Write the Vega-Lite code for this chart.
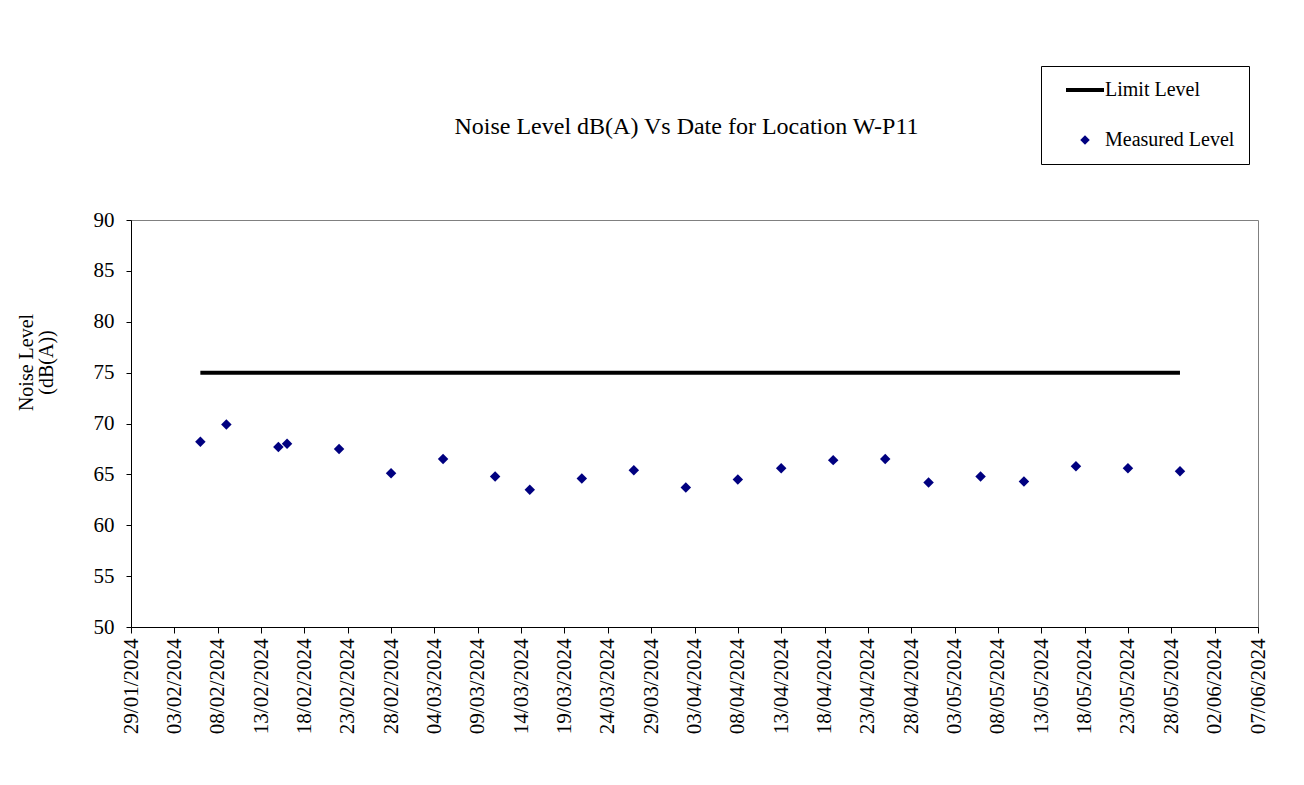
{
  "$schema": "https://vega.github.io/schema/vega-lite/v6.json",
  "width": 1127,
  "height": 407,
  "autosize": {"type": "none"},
  "padding": {"left": 131, "top": 220, "right": 46, "bottom": 158},
  "background": "white",
  "config": {
    "font": "Liberation Serif",
    "view": {"stroke": "#808080", "strokeWidth": 1},
    "axis": {"labelFont": "Liberation Serif", "titleFont": "Liberation Serif", "labelColor": "#000", "titleColor": "#000", "domainColor": "#000", "tickColor": "#000", "grid": false, "titleFontWeight": "normal"}
  },
  "title": {
    "text": "Noise Level dB(A) Vs Date for Location W-P11",
    "font": "Liberation Serif",
    "fontSize": 24,
    "fontWeight": "normal",
    "color": "#000",
    "offset": -73,
    "dx": -8
  },
  "datasets": {
    "limit": [
      {"date": "2024-02-06", "level": 75, "series": "Limit Level"},
      {"date": "2024-05-29", "level": 75, "series": "Limit Level"}
    ],
    "measured": [
      {"date": "2024-02-06", "level": 68.2, "series": "Measured Level"},
      {"date": "2024-02-09", "level": 69.9, "series": "Measured Level"},
      {"date": "2024-02-15", "level": 67.7, "series": "Measured Level"},
      {"date": "2024-02-16", "level": 68.0, "series": "Measured Level"},
      {"date": "2024-02-22", "level": 67.5, "series": "Measured Level"},
      {"date": "2024-02-28", "level": 65.1, "series": "Measured Level"},
      {"date": "2024-03-05", "level": 66.5, "series": "Measured Level"},
      {"date": "2024-03-11", "level": 64.8, "series": "Measured Level"},
      {"date": "2024-03-15", "level": 63.5, "series": "Measured Level"},
      {"date": "2024-03-21", "level": 64.6, "series": "Measured Level"},
      {"date": "2024-03-27", "level": 65.4, "series": "Measured Level"},
      {"date": "2024-04-02", "level": 63.7, "series": "Measured Level"},
      {"date": "2024-04-08", "level": 64.5, "series": "Measured Level"},
      {"date": "2024-04-13", "level": 65.6, "series": "Measured Level"},
      {"date": "2024-04-19", "level": 66.4, "series": "Measured Level"},
      {"date": "2024-04-25", "level": 66.5, "series": "Measured Level"},
      {"date": "2024-04-30", "level": 64.2, "series": "Measured Level"},
      {"date": "2024-05-06", "level": 64.8, "series": "Measured Level"},
      {"date": "2024-05-11", "level": 64.3, "series": "Measured Level"},
      {"date": "2024-05-17", "level": 65.8, "series": "Measured Level"},
      {"date": "2024-05-23", "level": 65.6, "series": "Measured Level"},
      {"date": "2024-05-29", "level": 65.3, "series": "Measured Level"}
    ]
  },
  "encoding": {
    "x": {
      "field": "date",
      "type": "temporal",
      "scale": {"type": "utc", "domain": [{"year": 2024, "month": 1, "date": 29, "utc": true}, {"year": 2024, "month": 6, "date": 7, "utc": true}]},
      "axis": {
        "title": null,
        "labelExpr": "utcFormat(datum.value, '%d/%m/%Y')",
        "labelAngle": -90,
        "labelFontSize": 21,
        "labelPadding": 5,
        "tickSize": 6,
        "labelOverlap": false,
        "labelFlush": false,
        "values": [
          {"year": 2024, "month": 1, "date": 29, "utc": true},
          {"year": 2024, "month": 2, "date": 3, "utc": true},
          {"year": 2024, "month": 2, "date": 8, "utc": true},
          {"year": 2024, "month": 2, "date": 13, "utc": true},
          {"year": 2024, "month": 2, "date": 18, "utc": true},
          {"year": 2024, "month": 2, "date": 23, "utc": true},
          {"year": 2024, "month": 2, "date": 28, "utc": true},
          {"year": 2024, "month": 3, "date": 4, "utc": true},
          {"year": 2024, "month": 3, "date": 9, "utc": true},
          {"year": 2024, "month": 3, "date": 14, "utc": true},
          {"year": 2024, "month": 3, "date": 19, "utc": true},
          {"year": 2024, "month": 3, "date": 24, "utc": true},
          {"year": 2024, "month": 3, "date": 29, "utc": true},
          {"year": 2024, "month": 4, "date": 3, "utc": true},
          {"year": 2024, "month": 4, "date": 8, "utc": true},
          {"year": 2024, "month": 4, "date": 13, "utc": true},
          {"year": 2024, "month": 4, "date": 18, "utc": true},
          {"year": 2024, "month": 4, "date": 23, "utc": true},
          {"year": 2024, "month": 4, "date": 28, "utc": true},
          {"year": 2024, "month": 5, "date": 3, "utc": true},
          {"year": 2024, "month": 5, "date": 8, "utc": true},
          {"year": 2024, "month": 5, "date": 13, "utc": true},
          {"year": 2024, "month": 5, "date": 18, "utc": true},
          {"year": 2024, "month": 5, "date": 23, "utc": true},
          {"year": 2024, "month": 5, "date": 28, "utc": true},
          {"year": 2024, "month": 6, "date": 2, "utc": true},
          {"year": 2024, "month": 6, "date": 7, "utc": true}
        ]
      }
    },
    "y": {
      "field": "level",
      "type": "quantitative",
      "scale": {"domain": [50, 90], "nice": false, "zero": false},
      "axis": {
        "title": ["Noise Level", "(dB(A))"],
        "titleFontSize": 20,
        "titleLineHeight": 20,
        "titleY": 142,
        "titlePadding": 37,
        "values": [50, 55, 60, 65, 70, 75, 80, 85, 90],
        "labelFontSize": 21,
        "labelPadding": 12,
        "tickSize": 5,
        "labelFlush": false
      }
    },
    "color": {
      "field": "series",
      "type": "nominal",
      "scale": {"domain": ["Limit Level", "Measured Level"], "range": ["#000000", "#000080"]},
      "legend": {
        "title": null,
        "orient": "none",
        "legendX": 910,
        "legendY": -154,
        "direction": "vertical",
        "fillColor": "white",
        "strokeColor": "#000",
        "padding": 14,
        "rowPadding": 30,
        "labelFont": "Liberation Serif",
        "labelFontSize": 20,
        "labelColor": "#000",
        "labelOffset": 10,
        "symbolSize": 1444,
        "symbolOffset": 20,
        "encode": {
          "labels": {
            "update": {
              "text": {"signal": "datum.label + '\u2002\u2002\u2009'"}
            }
          },
          "symbols": {
            "update": {
              "shape": {"signal": "datum.value === 'Limit Level' ? 'stroke' : 'diamond'"},
              "size": {"signal": "datum.value === 'Limit Level' ? 1444 : 90"},
              "strokeWidth": {"signal": "datum.value === 'Limit Level' ? 4 : 0"},
              "stroke": {"signal": "datum.value === 'Limit Level' ? '#000' : '#000080'"},
              "fill": {"signal": "datum.value === 'Limit Level' ? 'transparent' : '#000080'"},
              "opacity": {"value": 1},
              "fillOpacity": {"value": 1},
              "strokeOpacity": {"value": 1}
            }
          }
        }
      }
    }
  },
  "layer": [
    {
      "data": {"name": "limit"},
      "mark": {"type": "line", "strokeWidth": 4, "color": "#000"}
    },
    {
      "data": {"name": "measured"},
      "mark": {"type": "point", "shape": "diamond", "filled": true, "size": 110, "opacity": 1, "color": "#000080"}
    }
  ]
}
